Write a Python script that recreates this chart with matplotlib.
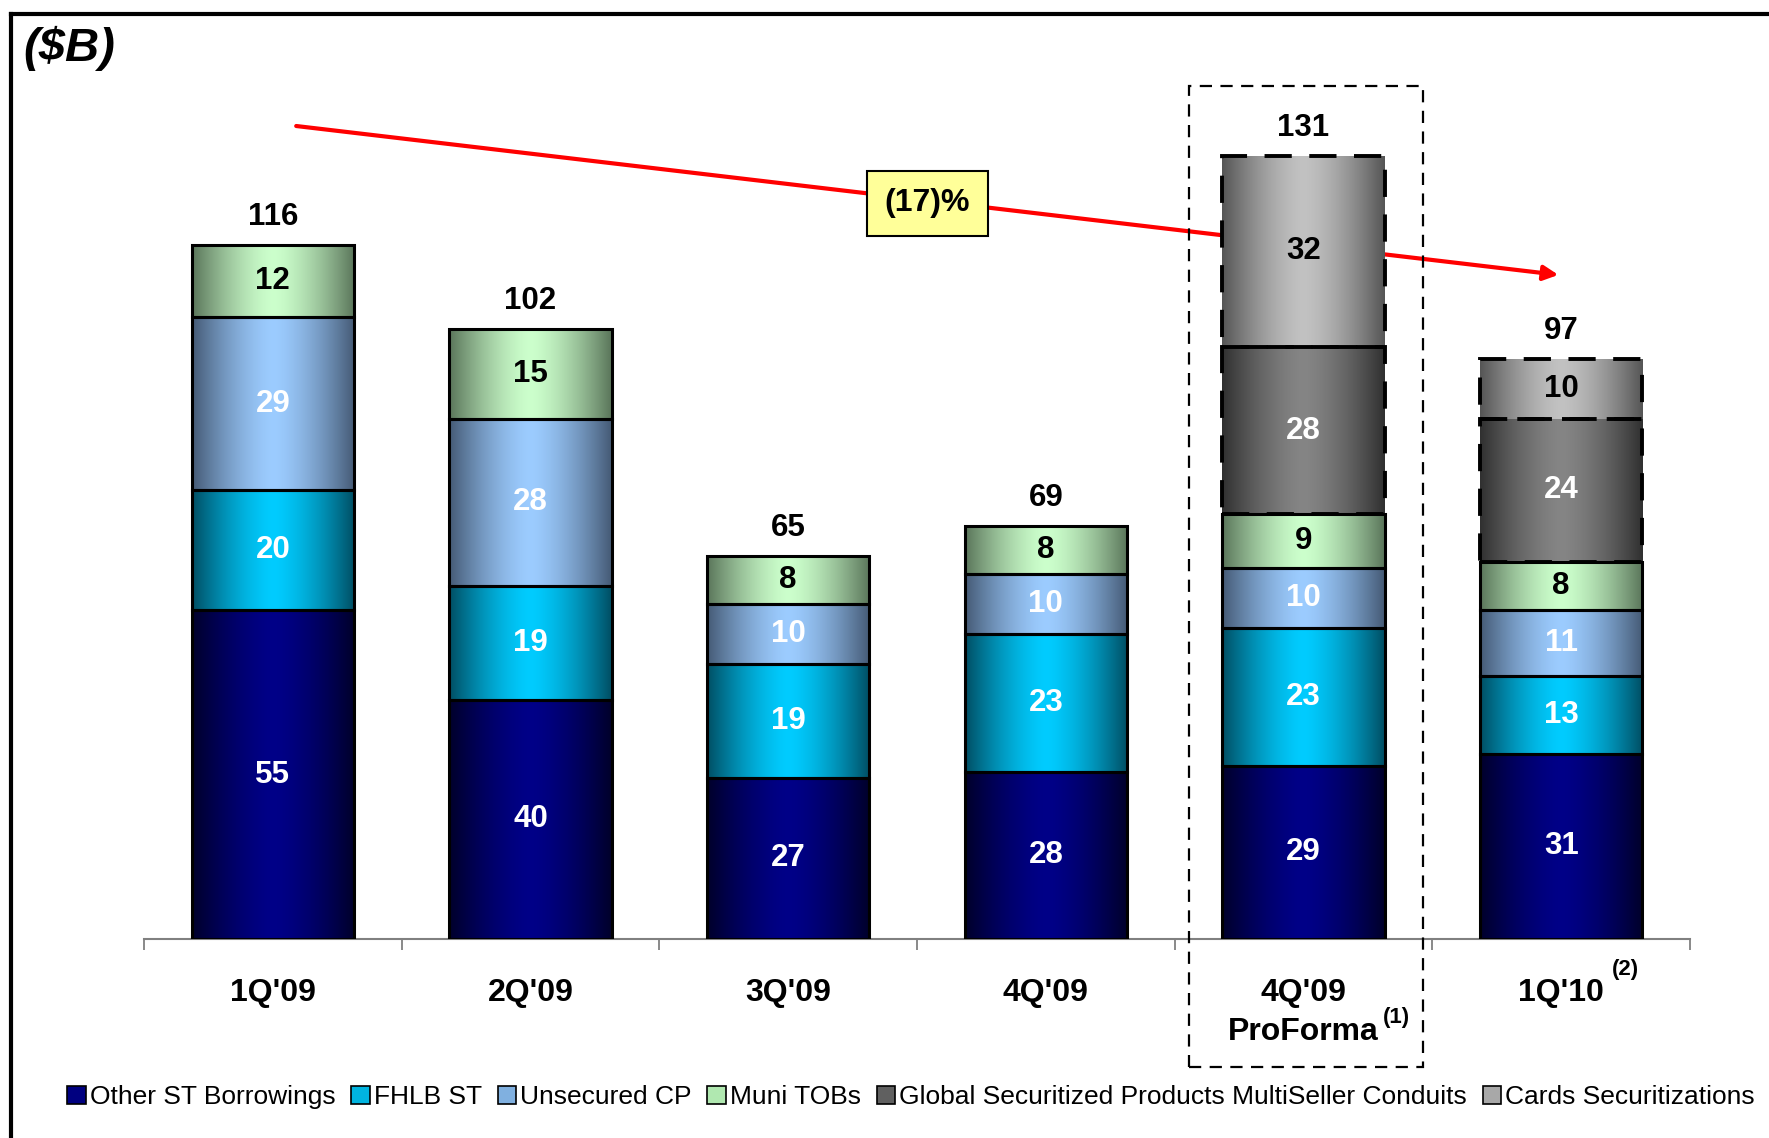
import numpy as np
import matplotlib
matplotlib.use("Agg")
import matplotlib.pyplot as plt
from matplotlib.patches import Patch, Rectangle
from matplotlib.lines import Line2D

plt.rcParams['font.family'] = ['Liberation Sans', 'DejaVu Sans']

# data ($B)
quarters = ["1Q'09", "2Q'09", "3Q'09", "4Q'09", "4Q'09\nProForma", "1Q'10"]
other_st = [55, 40, 27, 28, 29, 31]
fhlb_st = [20, 19, 19, 23, 23, 13]
unsecured_cp = [29, 28, 10, 10, 10, 11]
muni_tobs = [12, 15, 8, 8, 9, 8]
gsp_conduits = [0, 0, 0, 0, 28, 24]
cards_sec = [0, 0, 0, 0, 32, 10]
totals = [116, 102, 65, 69, 131, 97]
change_label = "(17)%"

series = [
    ("Other ST Borrowings", other_st, "#00002a", "#000088", "white", "-"),
    ("FHLB ST", fhlb_st, "#004e63", "#00ccff", "white", "-"),
    ("Unsecured CP", unsecured_cp, "#455a75", "#9cccff", "white", "-"),
    ("Muni TOBs", muni_tobs, "#5a755a", "#ccffcc", "black", "-"),
    ("Global Securitized Products MultiSeller Conduits", gsp_conduits, "#303030", "#858585", "white", (0, (7, 4.5))),
    ("Cards Securitizations", cards_sec, "#555555", "#c2c2c2", "black", (0, (7, 4.5))),
]
legend_colors = ["#000080", "#00b4e0", "#80b0e0", "#b0e8b0", "#606060", "#a8a8a8"]


def gradient(edge, center, n=200):
    e = np.array(matplotlib.colors.to_rgb(edge))
    c = np.array(matplotlib.colors.to_rgb(center))
    u = np.linspace(0, 1, n)
    t = 1 - np.abs(2 * u - 1) ** 1.5
    return (e[None, :] * (1 - t[:, None]) + c[None, :] * t[:, None])[None, :, :]


fig = plt.figure(figsize=(17.69, 11.38), dpi=100)
ax = fig.add_axes([144 / 1769, 1 - 939 / 1138, 1546 / 1769, 909 / 1138])

x = np.arange(len(quarters))
width = 0.63
bottom = np.zeros(len(quarters))
for name, vals, edge, center, tcol, ls in series:
    vals = np.array(vals, dtype=float)
    lw = 2.2 if ls == "-" else 2.8
    bars = ax.bar(x, vals, width, bottom=bottom, facecolor="none", edgecolor="black",
                  linewidth=lw, linestyle=ls, zorder=4)
    img = gradient(edge, center)
    for i, (b, v) in enumerate(zip(bars, vals)):
        if v <= 0:
            b.set_visible(False)
            continue
        im = ax.imshow(img, extent=[b.get_x(), b.get_x() + b.get_width(), b.get_y(), b.get_y() + v],
                       aspect="auto", zorder=3, interpolation="bilinear")
        im.set_clip_path(b)
        ax.text(b.get_x() + b.get_width() / 2, b.get_y() + v / 2, f"{int(v)}", ha="center", va="center",
                color=tcol, fontsize=22.5, fontweight="bold", zorder=5)
    bottom += vals

for i, t in enumerate(totals):
    ax.annotate(str(t), (x[i], bottom[i]), xytext=(0, 13), textcoords="offset pixels",
                ha="center", va="bottom", fontsize=22.5, fontweight="bold")

ax.set_xlim(-0.5, len(quarters) - 0.5)
ax.set_ylim(0, 152)

# axis styling
for s in ["top", "right", "left"]:
    ax.spines[s].set_visible(False)
ax.spines["bottom"].set_color("#808080")
ax.spines["bottom"].set_linewidth(1.5)
ax.set_yticks([])
ax.set_xticks(np.arange(len(quarters) + 1) - 0.5)
ax.set_xticklabels([])
ax.tick_params(axis="x", which="major", length=8, width=1.3, color="#808080", direction="out")
ax.set_xticks(x, minor=True)
ax.set_xticklabels(quarters, minor=True, fontsize=23, fontweight="bold", linespacing=1.38)
ax.tick_params(axis="x", which="minor", length=0, pad=28)

# footnote superscripts
ax.annotate("(1)", (4, 0), xytext=(93, -78), textcoords="offset pixels", ha="center", va="center",
            fontsize=16, fontweight="bold", annotation_clip=False)
ax.annotate("(2)", (5, 0), xytext=(64, -31), textcoords="offset pixels", ha="center", va="center",
            fontsize=16, fontweight="bold", annotation_clip=False)

# trend arrow
ax.annotate("", xy=(5.0, 111), xytext=(0.08, 136),
            arrowprops=dict(arrowstyle="-|>", color="red", lw=3, mutation_scale=22), zorder=2)
ax.text(2.54, 123, change_label, ha="center", va="center", fontsize=23, fontweight="bold", zorder=6,
        bbox=dict(boxstyle="square,pad=0.55", facecolor="#ffff99", edgecolor="black", linewidth=1.5))

# dashed box around pro forma column
ax.add_patch(Rectangle((3.555, -21.4), 0.908, 164, fill=False, edgecolor="black", linewidth=1.6,
                       linestyle=(0, (5.5, 3.8)), clip_on=False, zorder=6))

# units label and frame
fig.text(23 / 1769, 1 - 26 / 1138, "($B)", ha="left", va="top", fontsize=34, fontweight="bold",
         fontstyle="italic")
fig.add_artist(Line2D([11 / 1769, 11 / 1769], [0, 1 - 14 / 1138], color="black", lw=3))
fig.add_artist(Line2D([11 / 1769, 1], [1 - 14 / 1138, 1 - 14 / 1138], color="black", lw=3))

handles = [Patch(facecolor=c, edgecolor="black", linewidth=1.2) for c in legend_colors]
fig.legend(handles, [s[0] for s in series], loc="center", bbox_to_anchor=(0.515, 1 - 1097 / 1138),
           ncol=6, frameon=False, fontsize=19, handlelength=0.7, handleheight=0.7,
           handletextpad=0.15, columnspacing=0.6, borderaxespad=0)

fig.savefig("out.png", dpi=100)
